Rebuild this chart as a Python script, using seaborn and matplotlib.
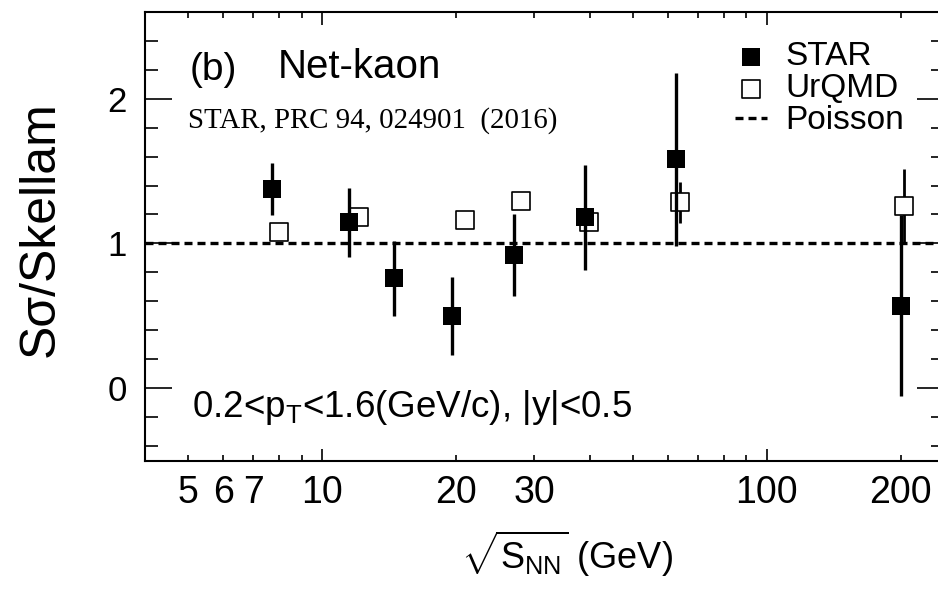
import matplotlib
matplotlib.use("Agg")
import matplotlib.pyplot as plt
from matplotlib.ticker import LogLocator, MultipleLocator, FuncFormatter, FixedLocator
from matplotlib.lines import Line2D
import numpy as np
import pandas as pd
import seaborn as sns

# STAR net-kaon S*sigma / Skellam
star_energy = [7.7, 11.5, 14.5, 19.6, 27.0, 39.0, 62.4, 200.0]
star_ratio = [1.375, 1.145, 0.76, 0.50, 0.92, 1.18, 1.58, 0.57]
star_err = [0.18, 0.24, 0.26, 0.27, 0.285, 0.36, 0.60, 0.625]

# UrQMD (shifted slightly right of the STAR energies)
urqmd_energy = [8.0, 12.1, 21.0, 28.0, 39.9, 63.8, 203.7]
urqmd_ratio = [1.076, 1.186, 1.163, 1.29, 1.145, 1.283, 1.26]
urqmd_err = [0.04, 0.04, 0.04, 0.04, 0.04, 0.14, 0.255]

poisson_level = 1.0
xtick_shown = [5, 6, 7, 10, 20, 30, 100, 200]

star = pd.DataFrame({"energy": star_energy, "ratio": star_ratio, "err": star_err})
urqmd = pd.DataFrame({"energy": urqmd_energy, "ratio": urqmd_ratio, "err": urqmd_err})

sns.set_theme(style="ticks")
plt.rcParams["font.family"] = ["Liberation Sans", "DejaVu Sans"]
plt.rcParams["mathtext.fontset"] = "custom"
plt.rcParams["mathtext.rm"] = "Liberation Sans"
plt.rcParams["mathtext.it"] = "Liberation Sans:italic"
plt.rcParams["mathtext.bf"] = "Liberation Sans:bold"
for key in ["text.color", "axes.labelcolor", "xtick.color", "ytick.color",
            "axes.edgecolor"]:
    plt.rcParams[key] = "black"

fig = plt.figure(figsize=(9.38, 5.90), dpi=100)
ax = fig.add_axes([145 / 938, (590 - 460.7) / 590, 798.8 / 938, 449 / 590])

ax.axhline(poisson_level, color="black", lw=2.4, ls=(0, (2.4, 1.5)), zorder=1)

# UrQMD below, STAR on top
ax.errorbar(urqmd["energy"], urqmd["ratio"], yerr=urqmd["err"], fmt="none",
            ecolor="black", elinewidth=2.0, capsize=0, zorder=2)
sns.scatterplot(data=urqmd, x="energy", y="ratio", marker="s", s=165,
                facecolor="white", edgecolor="black", linewidth=1.2, ax=ax,
                zorder=3, label="UrQMD")
ax.errorbar(star["energy"], star["ratio"], yerr=star["err"], fmt="none",
            ecolor="black", elinewidth=2.4, capsize=0, zorder=4)
sns.scatterplot(data=star, x="energy", y="ratio", marker="s", s=150,
                color="black", edgecolor="black", linewidth=0, ax=ax,
                zorder=5, label="STAR")

ax.set_xscale("log")
ax.set_xlim(4, 250)
ax.set_ylim(-0.5, 2.6)

ax.xaxis.set_major_locator(FixedLocator([10, 100]))
ax.xaxis.set_minor_locator(LogLocator(base=10, subs=np.arange(2, 10)))


def fmt_x(v, pos):
    for t in xtick_shown:
        if np.isclose(v, t):
            return f"{t:g}"
    return ""


ax.xaxis.set_major_formatter(FuncFormatter(fmt_x))
ax.xaxis.set_minor_formatter(FuncFormatter(fmt_x))
ax.yaxis.set_major_locator(MultipleLocator(1))
ax.yaxis.set_minor_locator(MultipleLocator(0.2))

ax.tick_params(which="both", direction="in", top=True, right=True,
               color="black", width=1.2)
ax.tick_params(axis="x", which="major", length=9, labelsize=27, pad=10)
ax.tick_params(axis="x", which="minor", length=4.5, labelsize=27, pad=10)
ax.tick_params(axis="y", which="major", length=19.5, labelsize=25, pad=13)
ax.tick_params(axis="y", which="minor", length=9.5)
for sp in ax.spines.values():
    sp.set_linewidth(1.5)

ax.set_xlabel(r"$\sqrt{\mathrm{S_{NN}}}$ (GeV)", fontsize=26)
ax.xaxis.set_label_coords(0.528, -0.152)
ax.set_ylabel("S\u03c3/Skellam", fontsize=36)
ax.yaxis.set_label_coords(-0.102, 0.516)

ax.text(0.0563, 0.848, "(b)", transform=ax.transAxes, fontsize=28,
        va="baseline", ha="left")
ax.text(0.1665, 0.852, "Net-kaon", transform=ax.transAxes, fontsize=29,
        va="baseline", ha="left")
ax.text(0.0538, 0.741, "STAR, PRC 94, 024901  (2016)", transform=ax.transAxes,
        fontsize=20.8, family=["Liberation Serif", "DejaVu Serif"],
        va="baseline", ha="left")
ax.text(0.0585, 0.098, r"0.2<p$_{\mathrm{T}}$<1.6(GeV/c), |y|<0.5",
        transform=ax.transAxes, fontsize=26.5, va="baseline", ha="left")

handles, labels = ax.get_legend_handles_labels()
order = [labels.index("STAR"), labels.index("UrQMD")]
handles = [handles[i] for i in order]
labels = [labels[i] for i in order]
handles.append(Line2D([], [], color="black", lw=2.4, ls=(0, (2.4, 1.5))))
labels.append("Poisson")
ax.legend(handles, labels, loc="upper left", bbox_to_anchor=(0.7386, 0.934),
          frameon=False, fontsize=24, handlelength=0.96, handletextpad=0.55,
          labelspacing=0.03, borderpad=0, borderaxespad=0)

fig.savefig("out.png", dpi=100)
